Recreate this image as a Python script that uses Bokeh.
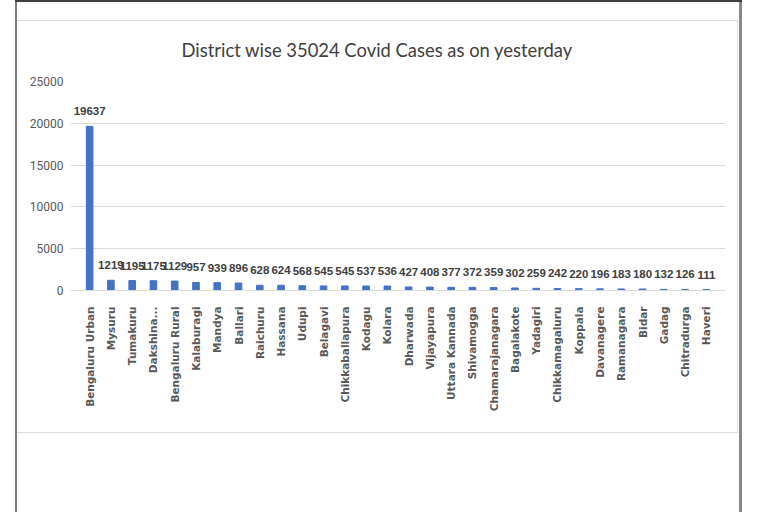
from bokeh.plotting import figure
from bokeh.models import FactorRange, Range1d, FixedTicker, ColumnDataSource, LabelSet, Title
from bokeh.core.properties import value
from bokeh.embed import file_html
from bokeh.resources import INLINE
import math

districts = ["Bengaluru Urban", "Mysuru", "Tumakuru", "Dakshina...", "Bengaluru Rural",
             "Kalaburagi", "Mandya", "Ballari", "Raichuru", "Hassana", "Udupi", "Belagavi",
             "Chikkaballapura", "Kodagu", "Kolara", "Dharwada", "Vijayapura", "Uttara Kannada",
             "Shivamogga", "Chamarajanagara", "Bagalakote", "Yadagiri", "Chikkamagaluru",
             "Koppala", "Davanagere", "Ramanagara", "Bidar", "Gadag", "Chitradurga", "Haveri"]
cases = [19637, 1219, 1195, 1175, 1129, 957, 939, 896, 628, 624, 568, 545, 545, 537, 536,
         427, 408, 377, 372, 359, 302, 259, 242, 220, 196, 183, 180, 132, 126, 111]
y_ticks = [0, 5000, 10000, 15000, 20000, 25000]
title_text = "District wise 35024 Covid Cases as on yesterday"

src = ColumnDataSource(dict(d=districts, v=cases, t=[str(c) for c in cases]))

p = figure(width=768, height=512,
           x_range=FactorRange(*districts, range_padding=0.4, range_padding_units="absolute"),
           y_range=Range1d(0, 25000), output_backend="svg", toolbar_location=None,
           min_border_left=70, min_border_right=43, min_border_top=81, min_border_bottom=222)

p.title = Title(text=title_text, align="left", offset=111, standoff=42,
                text_font="Lato", text_font_size="18.4px", text_font_style="normal",
                text_color="#404040")

p.vbar(x="d", top="v", width=0.31, source=src, color="#4472C4")
labels = LabelSet(x="d", y="v", text="t", source=src, text_align="center", text_baseline="bottom",
                  y_offset=11, text_font=value("Liberation Sans"), text_font_size=value("11.5px"),
                  text_font_style=value("bold"), text_color=value("#404040"))
p.add_layout(labels)

p.background_fill_color = "white"
p.border_fill_color = None
p.outline_line_color = None

p.xgrid.grid_line_color = None
p.ygrid.grid_line_color = "#d9d9d9"
p.ygrid.grid_line_width = 1

p.yaxis.ticker = FixedTicker(ticks=y_ticks)
p.yaxis.axis_line_color = None
p.yaxis.major_tick_line_color = None
p.yaxis.minor_tick_line_color = None
p.yaxis.major_tick_out = 0
p.yaxis.major_label_standoff = 7
p.yaxis.major_label_text_font = "Roboto"
p.yaxis.major_label_text_font_size = "12px"
p.yaxis.major_label_text_color = "#595959"

p.xaxis.axis_line_color = "#d9d9d9"
p.xaxis.major_tick_line_color = None
p.xaxis.major_tick_out = 0
p.xaxis.major_label_standoff = 16
p.xaxis.major_label_orientation = math.pi / 2
p.xaxis.major_label_text_font = "DejaVu Sans"
p.xaxis.major_label_text_font_size = "10.5px"
p.xaxis.major_label_text_font_style = "bold"
p.xaxis.major_label_text_color = "#595959"

# page frame of the screenshot: outer window lines and the light chart box
frame_bg = ", ".join([
    "linear-gradient(#404040,#404040) 15px 0px / 727px 2px no-repeat",
    "linear-gradient(#7f7f7f,#7f7f7f) 15px 0px / 2px 100% no-repeat",
    "linear-gradient(#8a8a8a,#8a8a8a) 739px 0px / 3px 100% no-repeat",
    "linear-gradient(#dedede,#dedede) 17px 20px / 720px 1px no-repeat",
    "linear-gradient(#dedede,#dedede) 17px 432px / 721px 1px no-repeat",
    "linear-gradient(#dedede,#dedede) 737px 20px / 1px 412px no-repeat",
    "white",
])
p.styles = {"background": frame_bg}

open("out.html", "w").write(file_html(p, INLINE))
